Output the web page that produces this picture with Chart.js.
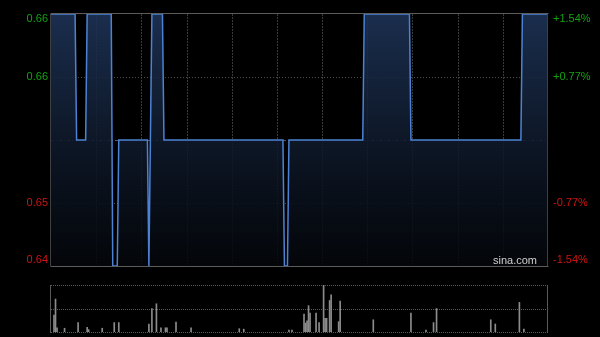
<!DOCTYPE html>
<html><head><meta charset="utf-8">
<script src="https://cdn.jsdelivr.net/npm/chart.js@4.4.1/dist/chart.umd.min.js"></script>
<style>
html,body{margin:0;padding:0;background:#000;width:600px;height:337px;overflow:hidden;}
#p{position:absolute;left:0;top:0;}
#v{position:absolute;left:0;top:280px;}
</style></head><body>
<canvas id="p" width="600" height="280"></canvas>
<canvas id="v" width="600" height="57"></canvas>
<script>
// ---- data ----
const prevClose = 0.65;
const priceMinutes = [0,16,17,23,24,40,41,44,45,64,65,66,67,74,75,154,155,157,158,207,208,238,239,312,313,330];
const priceValues  = [0.66,0.66,0.65,0.65,0.66,0.66,0.64,0.64,0.65,0.65,0.64,0.65,0.66,0.66,0.65,0.65,0.64,0.64,0.65,0.65,0.66,0.66,0.65,0.65,0.66,0.66];
const volMinutes = [2,3,4,9,18,24,25,34,42,45,65,67,70,73,76,77,83,93,125,128,158,160,168,169,170,171,172,176,178,181,182,183,185,186,191,192,214,239,249,254,256,292,295,311,314];
const volValues  = [432000,840000,108000,96000,240000,120000,60000,96000,240000,240000,204000,600000,720000,108000,108000,108000,252000,108000,84000,72000,48000,48000,456000,228000,288000,672000,480000,480000,240000,1200000,348000,348000,804000,948000,264000,792000,312000,480000,48000,240000,600000,312000,204000,756000,72000];
const leftTickValues  = [0.66,0.655,0.645,0.64];
const leftTickLabels  = ['0.66','0.66','0.65','0.64'];
const rightTickLabels = ['+1.54%','+0.77%','-0.77%','-1.54%'];
const timeGridMinutes = [30,60,90,120,150,180,210,240,270,300];
const sessionMinutes = 330;
const priceMin = 0.64, priceMax = 0.66;
const watermark = 'sina.com';

const FONT = '11px "Liberation Sans", Arial, sans-serif';

function dashedLine(ctx, x1, y1, x2, y2, color, dash){
  ctx.save();
  ctx.strokeStyle = color; ctx.lineWidth = 1; ctx.setLineDash(dash);
  ctx.beginPath(); ctx.moveTo(x1, y1); ctx.lineTo(x2, y2); ctx.stroke();
  ctx.restore();
}

const priceGrid = {
  id: 'priceGrid',
  beforeDatasetsDraw(chart){
    const {ctx, chartArea: a, scales: {x, y}} = chart;
    timeGridMinutes.forEach(m => {
      const px = Math.round(x.getPixelForValue(m)) + 0.5;
      dashedLine(ctx, px, a.top, px, a.bottom, '#3a3a3a', [2, 1]);
    });
    [0.655, 0.645].forEach(v => {
      const py = Math.round(y.getPixelForValue(v)) + 0.5;
      dashedLine(ctx, a.left, py, a.right, py, '#4a4a4a', [1, 2]);
    });
    const pm = Math.round(y.getPixelForValue(prevClose)) + 0.5;
    dashedLine(ctx, a.left, pm, a.right, pm, '#5a5a5a', [3, 2, 1, 2]);
  },
  afterDatasetsDraw(chart){
    const {ctx, chartArea: a, scales: {y}} = chart;
    ctx.save();
    ctx.strokeStyle = '#5c5c5c'; ctx.lineWidth = 1; ctx.setLineDash([]);
    ctx.beginPath();
    ctx.moveTo(a.left - 0.5, Math.round(a.top) - 0.5); ctx.lineTo(a.right + 0.5, Math.round(a.top) - 0.5);
    ctx.moveTo(a.left - 0.5, Math.round(a.bottom) + 0.5); ctx.lineTo(a.right + 0.5, Math.round(a.bottom) + 0.5);
    ctx.stroke();
    ctx.strokeStyle = '#3f3f3f';
    ctx.beginPath();
    ctx.moveTo(Math.round(a.left) - 0.5, a.top); ctx.lineTo(Math.round(a.left) - 0.5, a.bottom);
    ctx.moveTo(Math.round(a.right) - 0.5, a.top); ctx.lineTo(Math.round(a.right) - 0.5, a.bottom);
    ctx.stroke();
    ctx.font = FONT;
    ctx.textBaseline = 'middle';
    leftTickValues.forEach((v, i) => {
      let py = y.getPixelForValue(v);
      py = Math.max(a.top + 5, Math.min(a.bottom - 6, py));
      const col = v > prevClose ? '#12a312' : '#cc1414';
      ctx.fillStyle = col;
      ctx.textAlign = 'right';
      ctx.fillText(leftTickLabels[i], a.left - 3, py);
      ctx.textAlign = 'left';
      ctx.fillText(rightTickLabels[i], a.right + 5, py);
    });
    ctx.textAlign = 'right';
    ctx.fillStyle = '#d0d0d0';
    ctx.fillText(watermark, a.right - 11, a.bottom - 5);
    ctx.restore();
  }
};

new Chart(document.getElementById('p'), {
  type: 'line',
  data: {
    datasets: [{
      data: priceMinutes.map((m, i) => ({x: m, y: priceValues[i]})),
      borderColor: '#4c82d4',
      borderWidth: 1.5,
      pointRadius: 0,
      tension: 0,
      fill: 'start',
      backgroundColor: (c) => {
        const ch = c.chart, a = ch.chartArea;
        if (!a) return 'rgba(0,0,0,0)';
        const g = ch.ctx.createLinearGradient(0, a.top, 0, a.bottom);
        g.addColorStop(0, 'rgba(30,52,88,0.88)');
        g.addColorStop(0.5, 'rgba(15,26,44,0.88)');
        g.addColorStop(1, 'rgba(4,6,10,0.88)');
        return g;
      }
    }]
  },
  options: {
    responsive: false, animation: false, devicePixelRatio: 1,
    layout: {padding: {left: 51, right: 52, top: 14, bottom: 14}},
    plugins: {legend: {display: false}, tooltip: {enabled: false}},
    scales: {
      x: {type: 'linear', min: 0, max: sessionMinutes, display: false},
      y: {min: priceMin, max: priceMax, display: false}
    }
  },
  plugins: [priceGrid]
});

const volGrid = {
  id: 'volGrid',
  beforeDatasetsDraw(chart){
    const {ctx, chartArea: a} = chart;
    const t = Math.round(a.top) + 0.5, b = Math.round(a.bottom) + 0.5, m = Math.round((a.top + a.bottom) / 2) + 0.5;
    dashedLine(ctx, a.left, t, a.right, t, '#5a5a5a', [1, 1]);
    dashedLine(ctx, a.left, m, a.right, m, '#5a5a5a', [1, 1]);
    dashedLine(ctx, a.left, b, a.right, b, '#5a5a5a', [1, 1]);
    ctx.save();
    ctx.strokeStyle = '#5a5a5a'; ctx.lineWidth = 1;
    ctx.beginPath();
    ctx.moveTo(Math.round(a.left) - 0.5, a.top); ctx.lineTo(Math.round(a.left) - 0.5, a.bottom + 1);
    ctx.moveTo(Math.round(a.right) - 0.5, a.top); ctx.lineTo(Math.round(a.right) - 0.5, a.bottom + 1);
    ctx.stroke();
    ctx.restore();
  }
};

new Chart(document.getElementById('v'), {
  type: 'bar',
  data: {
    datasets: [{
      data: volMinutes.map((m, i) => ({x: m, y: volValues[i]})),
      backgroundColor: '#8c8c8c',
      barThickness: 1,
      borderWidth: 0
    }]
  },
  options: {
    responsive: false, animation: false, devicePixelRatio: 1,
    layout: {padding: {left: 51, right: 52, top: 5, bottom: 5}},
    plugins: {legend: {display: false}, tooltip: {enabled: false}},
    scales: {
      x: {type: 'linear', min: 0, max: sessionMinutes, display: false, offset: false},
      y: {min: 0, max: Math.max(...volValues), display: false}
    }
  },
  plugins: [volGrid]
});
</script>
</body></html>
